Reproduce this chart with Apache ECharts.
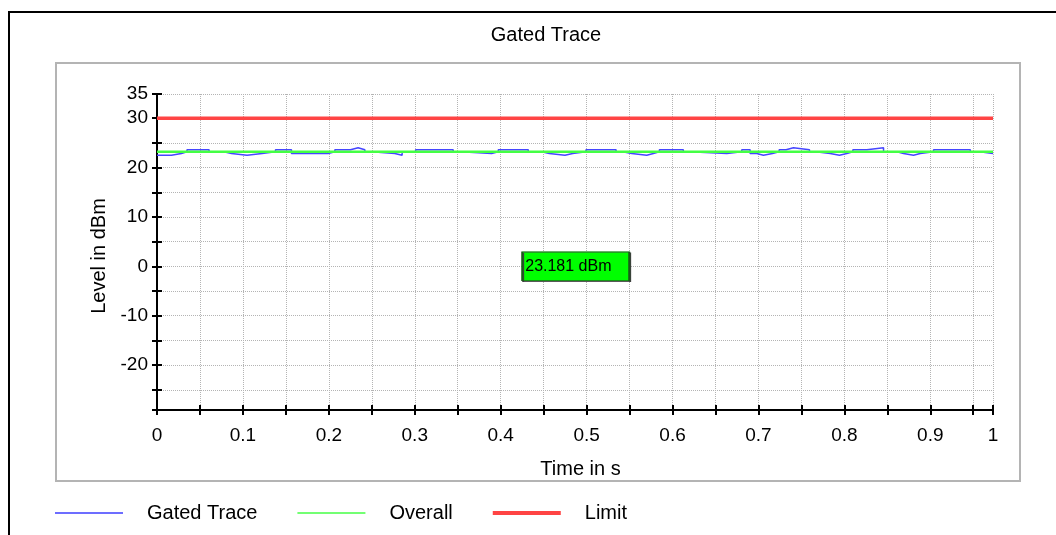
<!DOCTYPE html>
<html>
<head>
<meta charset="utf-8">
<script src="https://cdn.jsdelivr.net/npm/echarts@6/dist/echarts.min.js"></script>
<style>
html,body{margin:0;padding:0;background:#fff;}
#chart{width:1056px;height:535px;}
</style>
</head>
<body>
<div id="chart"></div>
<script>
// ---- data ----
var gatedTimes = [0,0.0168,0.0284,0.0349,0.0606,0.0777,0.0867,0.1048,0.1223,0.1379,0.1565,0.1992,0.2070,0.2252,0.2341,0.2419,0.2497,0.2768,0.2853,0.3010,0.3447,0.3534,0.3895,0.3972,0.4321,0.4477,0.4566,0.4748,0.4838,0.4993,0.5343,0.5420,0.5525,0.5700,0.5777,0.5847,0.6126,0.6196,0.6632,0.6806,0.6903,0.6981,0.7058,0.7163,0.7241,0.7322,0.7407,0.7594,0.7668,0.7835,0.7943,0.8029,0.8099,0.8262,0.8456,0.8612,0.8689,0.8805,0.8883,0.9038,0.9466,0.9574,0.973];
var gatedLevels = [22.5,22.85,23.18,23.6,23.18,22.85,22.5,22.85,23.18,23.6,22.85,23.18,23.6,24.0,23.6,23.18,22.85,22.5,23.18,23.6,23.18,22.85,23.18,23.6,23.18,22.85,22.5,22.85,23.18,23.6,23.18,22.85,22.5,22.85,23.18,23.6,23.18,22.85,23.18,23.6,22.85,22.5,22.85,23.18,23.6,24.0,23.6,23.18,22.85,22.5,22.85,23.18,23.6,24.0,23.18,22.85,22.5,22.85,23.18,23.6,23.18,22.85,22.85];
var overallLevel = 23.181;
var limitLevel = 30;
var xMin = 0, xMax = 0.973;
var yMin = -29.1, yMax = 34.9;
var xTickLabels = [0,0.1,0.2,0.3,0.4,0.5,0.6,0.7,0.8,0.9];
var xMaxLabel = '1';
var yTickLabels = [-20,-10,0,10,20,30];
var yMaxLabel = '35';
var readoutPos = [0.4873, 0];

var gatedData = gatedTimes.map(function(t,i){return [t, gatedLevels[i]];});
var overallData = [[xMin, overallLevel],[xMax, overallLevel]];
var limitData = [[xMin, limitLevel],[xMax, limitLevel]];

var narrow = '"Liberation Sans Narrow","Arial Narrow","Liberation Sans",sans-serif';
var reg = '"Liberation Sans",Arial,sans-serif';

function xFmt(v){
  if (Math.abs(v - xMax) < 1e-6) return xMaxLabel;
  for (var i=0;i<xTickLabels.length;i++) if (Math.abs(v - xTickLabels[i]) < 1e-6) return String(xTickLabels[i]);
  return '';
}
function yFmt(v){
  if (Math.abs(v - yMax) < 1e-6) return yMaxLabel;
  for (var i=0;i<yTickLabels.length;i++) if (Math.abs(v - yTickLabels[i]) < 1e-6) return String(yTickLabels[i]);
  return '';
}

var chart = echarts.init(document.getElementById('chart'));
var axisLineStyle = {color:'#000', width:2};
var gridLine = {show:true, lineStyle:{color:'#b4b4b4', type:'dotted', width:1}};

chart.setOption({
  animation:false,
  backgroundColor:'#fff',
  title:{text:'Gated Trace', left:541, top:20, textAlign:'center',
    textStyle:{fontFamily:reg, fontSize:20, fontWeight:'normal', color:'#000'}},
  graphic:[
    {type:'rect', shape:{x:9,y:12,width:1100,height:600}, style:{fill:null, stroke:'#000', lineWidth:2}, z:-10},
    {type:'rect', shape:{x:56,y:63,width:964,height:418}, style:{fill:null, stroke:'#b4b4b4', lineWidth:2}, z:-10}
  ],
  grid:{left:157, right:63, top:94, bottom:125, containLabel:false},
  xAxis:[
    {type:'value', min:xMin, max:xMax, interval:0.05, position:'bottom',
     axisLine:{show:true, lineStyle:axisLineStyle, onZero:false},
     axisTick:{show:true, length:5, lineStyle:{color:'#000', width:2}},
     axisLabel:{formatter:xFmt, margin:16, fontFamily:narrow, fontSize:19, color:'#000'},
     splitLine:gridLine,
     name:'Time in s', nameLocation:'middle', nameGap:49,
     nameTextStyle:{fontFamily:reg, fontSize:20, color:'#000', padding:[0,0,0,11]}},
    {type:'value', min:xMin, max:xMax, interval:0.05, position:'bottom',
     axisLine:{show:false, onZero:false},
     axisTick:{show:true, inside:true, length:5, lineStyle:{color:'#000', width:2}},
     axisLabel:{show:false}, splitLine:{show:false}}
  ],
  yAxis:[
    {type:'value', min:yMin, max:yMax, splitNumber:13, position:'left',
     axisLine:{show:true, lineStyle:axisLineStyle, onZero:false},
     axisTick:{show:true, length:5, lineStyle:{color:'#000', width:2}},
     axisLabel:{formatter:yFmt, margin:9, fontFamily:narrow, fontSize:19, color:'#000'},
     splitLine:gridLine,
     name:'Level in dBm', nameLocation:'middle', nameGap:41,
     nameTextStyle:{fontFamily:reg, fontSize:20, color:'#000', padding:[0,8,0,0]}},
    {type:'value', min:yMin, max:yMax, splitNumber:13, position:'left',
     axisLine:{show:false, onZero:false},
     axisTick:{show:true, inside:true, length:5, lineStyle:{color:'#000', width:2}},
     axisLabel:{show:false}, splitLine:{show:false}}
  ],
  legend:{
    left:55, top:503, padding:0, itemWidth:68, itemHeight:14, itemGap:40,
    textStyle:{fontFamily:reg, fontSize:20, color:'#000', padding:[0,0,0,19]},
    data:[
      {name:'Gated Trace', icon:'path://M0,0 L68,0 L68,1.5 L0,1.5 Z', itemStyle:{color:'#3c3cff'}},
      {name:'Overall', icon:'path://M0,0 L68,0 L68,1.5 L0,1.5 Z', itemStyle:{color:'#44ff44'}},
      {name:'Limit', icon:'path://M0,0 L68,0 L68,4 L0,4 Z', itemStyle:{color:'#ff4444'}}
    ],
    itemStyle:{borderWidth:0}
  },
  series:[
    {name:'Gated Trace', type:'line', step:'end', data:gatedData, showSymbol:false, symbol:'none',
     lineStyle:{color:'#4646ff', width:1.5}, itemStyle:{color:'#4646ff'}, z:2},
    {name:'Overall', type:'line', data:overallData, showSymbol:false, symbol:'none',
     lineStyle:{color:'#44ff44', width:2.5}, itemStyle:{color:'#44ff44'}, z:3,
     markPoint:{
       symbol:'rect', symbolSize:[107,29], animation:false,
       itemStyle:{color:'#00ff00', borderColor:'#1a5a1a', borderWidth:1,
         shadowColor:'#404040', shadowOffsetX:1, shadowOffsetY:1, shadowBlur:0},
       label:{show:true, position:'insideLeft', distance:4, color:'#000', fontFamily:narrow, fontSize:16,
         formatter:function(p){return p.value;}},
       data:[{coord:readoutPos, value:overallLevel.toFixed(3)+' dBm'}]
     }},
    {name:'Limit', type:'line', data:limitData, showSymbol:false, symbol:'none',
     lineStyle:{color:'#ff4444', width:3.5}, itemStyle:{color:'#ff4444'}, z:4}
  ]
});
</script>
</body>
</html>
